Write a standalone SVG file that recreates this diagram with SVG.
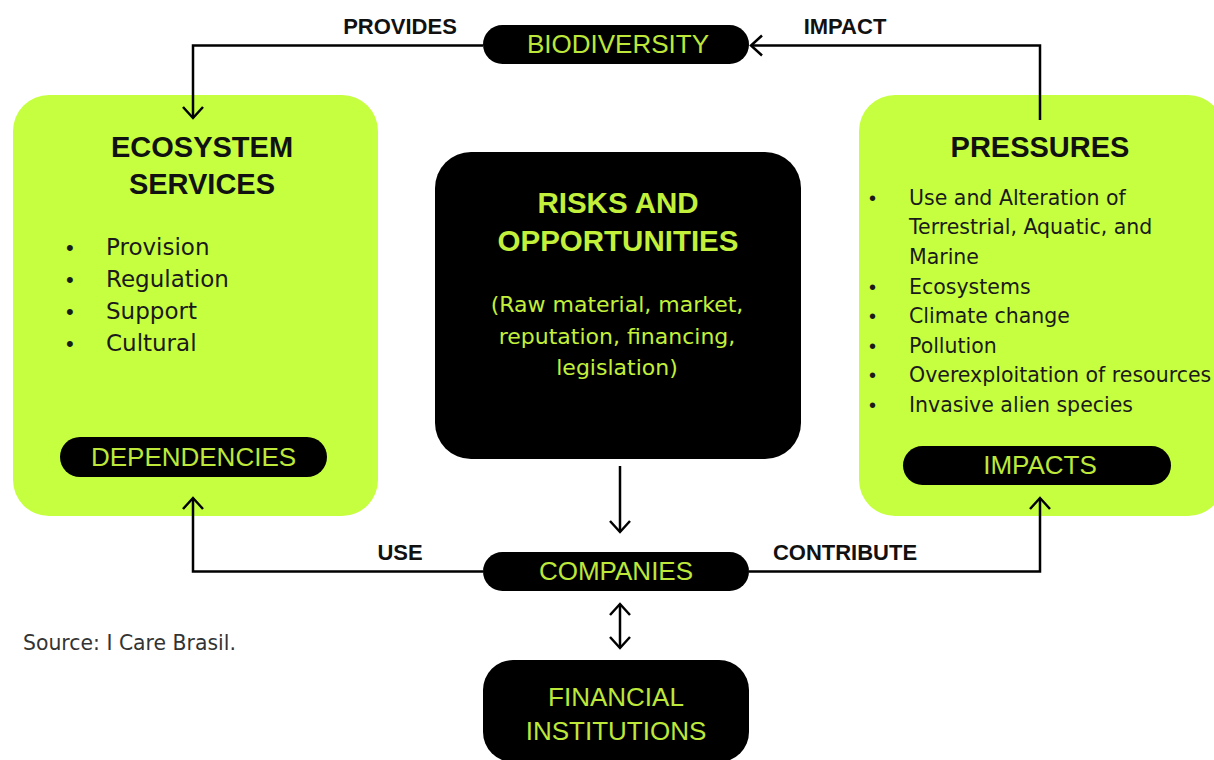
<svg xmlns="http://www.w3.org/2000/svg" width="1214" height="760" viewBox="0 0 1214 760">
<style>
.lime{fill:#c6ff40}
.blk{fill:#000}
.title{font-family:"Liberation Sans",Arial,sans-serif;font-size:29px;font-weight:600;fill:#111;text-anchor:middle}
.ctitle{font-family:"Liberation Sans",Arial,sans-serif;font-size:29.5px;font-weight:600;fill:#c2f03b;text-anchor:middle}
.pill{font-family:"Liberation Sans",Arial,sans-serif;font-size:26px;font-weight:300;fill:#bde83a;text-anchor:middle}
.sub{font-family:"DejaVu Sans","Liberation Sans",sans-serif;font-size:22px;fill:#c2f03b;text-anchor:middle}
.li{font-family:"DejaVu Sans","Liberation Sans",sans-serif;font-size:23px;fill:#1a1a1a}
.lr{font-family:"DejaVu Sans","Liberation Sans",sans-serif;font-size:20.5px;fill:#1a1a1a}
.bul{font-family:"Liberation Sans",Arial,sans-serif;fill:#1a1a1a}
.lbl{font-family:"Liberation Sans",Arial,sans-serif;font-size:22px;font-weight:600;fill:#111;text-anchor:middle}
.src{font-family:"DejaVu Sans","Liberation Sans",sans-serif;font-size:20.4px;fill:#333}
.conn{fill:none;stroke:#000;stroke-width:2.5}
</style>
<defs>
<marker id="ah" markerUnits="userSpaceOnUse" viewBox="-14 -12 16 24" refX="0" refY="0" markerWidth="16" markerHeight="24" orient="auto-start-reverse">
<path d="M-11,-10 L0,0 L-11,10" fill="none" stroke="#000" stroke-width="2.5"/>
</marker>
</defs>
<rect width="1214" height="760" fill="#fff"/>

<g id="ecosystem-services">
<rect class="lime" x="13" y="95" width="365" height="421" rx="36"/>
<text class="title" x="202" y="157">ECOSYSTEM</text>
<text class="title" x="202" y="194">SERVICES</text>
<text class="bul" font-size="22" x="66" y="255">•</text><text class="li" x="106" y="255">Provision</text>
<text class="bul" font-size="22" x="66" y="287">•</text><text class="li" x="106" y="287">Regulation</text>
<text class="bul" font-size="22" x="66" y="319">•</text><text class="li" x="106" y="319">Support</text>
<text class="bul" font-size="22" x="66" y="351">•</text><text class="li" x="106" y="351">Cultural</text>
</g>

<g id="dependencies">
<rect class="blk" x="60" y="437" width="267" height="40" rx="20"/>
<text class="pill" x="193.5" y="466">DEPENDENCIES</text>
</g>

<g id="pressures">
<rect class="lime" x="859" y="95" width="365" height="421" rx="36"/>
<text class="title" x="1040" y="157">PRESSURES</text>
<text class="bul" font-size="20" x="869" y="205">•</text><text class="lr" x="909" y="205">Use and Alteration of</text>
<text class="lr" x="909" y="234">Terrestrial, Aquatic, and</text>
<text class="lr" x="909" y="264">Marine</text>
<text class="bul" font-size="20" x="869" y="294">•</text><text class="lr" x="909" y="294">Ecosystems</text>
<text class="bul" font-size="20" x="869" y="323">•</text><text class="lr" x="909" y="323">Climate change</text>
<text class="bul" font-size="20" x="869" y="353">•</text><text class="lr" x="909" y="353">Pollution</text>
<text class="bul" font-size="20" x="869" y="382">•</text><text class="lr" x="909" y="382">Overexploitation of resources</text>
<text class="bul" font-size="20" x="869" y="412">•</text><text class="lr" x="909" y="412">Invasive alien species</text>
</g>

<g id="impacts">
<rect class="blk" x="903" y="446" width="268" height="39" rx="19.5"/>
<text class="pill" x="1040" y="474">IMPACTS</text>
</g>

<g id="biodiversity">
<rect class="blk" x="483" y="25" width="266" height="39" rx="19.5"/>
<text class="pill" x="618" y="53">BIODIVERSITY</text>
</g>

<g id="risks-opportunities">
<rect class="blk" x="435" y="152" width="366" height="307" rx="36"/>
<text class="ctitle" x="618" y="213">RISKS AND</text>
<text class="ctitle" x="618" y="251">OPPORTUNITIES</text>
<text class="sub" x="617" y="312">(Raw material, market,</text>
<text class="sub" x="617" y="344">reputation, financing,</text>
<text class="sub" x="617" y="375">legislation)</text>
</g>

<g id="companies">
<rect class="blk" x="483" y="552" width="266" height="39" rx="19.5"/>
<text class="pill" x="616" y="580">COMPANIES</text>
</g>

<g id="financial-institutions">
<rect class="blk" x="483" y="660" width="266" height="102" rx="30"/>
<text class="pill" x="616" y="706">FINANCIAL</text>
<text class="pill" x="616" y="740">INSTITUTIONS</text>
</g>

<g id="connectors">
<path class="conn" d="M483,45.5 H193 V118" marker-end="url(#ah)"/>
<path class="conn" d="M1040,120 V45.5 H751" marker-end="url(#ah)"/>
<path class="conn" d="M483,571.5 H193 V498" marker-end="url(#ah)"/>
<path class="conn" d="M749,571.5 H1040 V498" marker-end="url(#ah)"/>
<path class="conn" d="M620,466 V532" marker-end="url(#ah)"/>
<path class="conn" d="M620,604 V648" marker-start="url(#ah)" marker-end="url(#ah)"/>
<text class="lbl" x="400" y="34">PROVIDES</text>
<text class="lbl" x="845" y="34">IMPACT</text>
<text class="lbl" x="400" y="560">USE</text>
<text class="lbl" x="845" y="560">CONTRIBUTE</text>
</g>

<text class="src" x="23" y="650">Source: I Care Brasil.</text>
</svg>
